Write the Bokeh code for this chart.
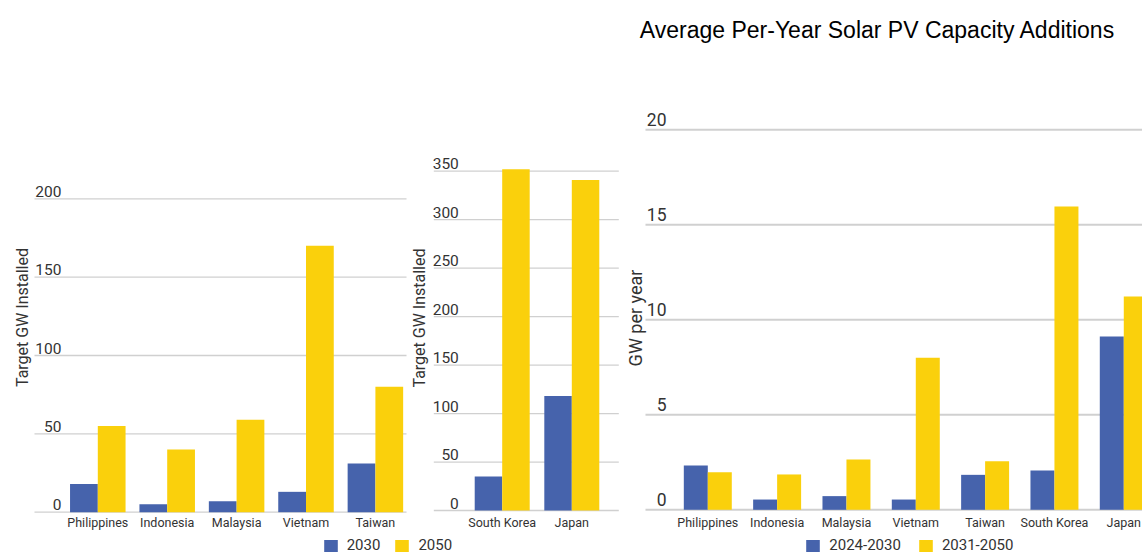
import numpy as np
from bokeh.plotting import figure
from bokeh.models import Range1d, Legend, LegendItem
from bokeh.core.properties import value
from bokeh.embed import file_html
from bokeh.resources import INLINE

# ---------------- data ----------------
sea_countries = ["Philippines", "Indonesia", "Malaysia", "Vietnam", "Taiwan"]
sea_2030 = [18, 5, 7, 13, 31]
sea_2050 = [55, 40, 59, 170, 80]
sea_ticks = [0, 50, 100, 150, 200]

ne_countries = ["South Korea", "Japan"]
ne_2030 = [35, 118]
ne_2050 = [352, 341]
ne_ticks = [0, 50, 100, 150, 200, 250, 300, 350]

add_countries = ["Philippines", "Indonesia", "Malaysia", "Vietnam", "Taiwan", "South Korea", "Japan"]
add_2024_2030 = [2.33, 0.54, 0.72, 0.54, 1.84, 2.07, 9.12]
add_2031_2050 = [1.98, 1.86, 2.65, 8.0, 2.56, 15.96, 11.23]
add_ticks = [0, 5, 10, 15, 20]

target_series = ["2030", "2050"]
add_series = ["2024-2030", "2031-2050"]
title_text = "Average Per-Year Solar PV Capacity Additions"
target_ytitle = "Target GW Installed"
add_ytitle = "GW per year"

# ---------------- style ----------------
BLUE = "#4663AC"
YELLOW = "#FAD00C"
GRID = "#D0D0D0"
TXT = "#333333"
FONT = value("Roboto")
W, H = 1142, 554

p = figure(width=W, height=H, x_range=Range1d(0, W), y_range=Range1d(H, 0),
           x_axis_type=None, y_axis_type=None, toolbar_location=None,
           output_backend="svg", min_border=0, outline_line_color=None,
           background_fill_color="white", border_fill_color="white")


def panel(name, cats, s1, s2, ticks, c0, step, y0, ppu, bw,
          gx0, gx1, grid_w, tick_right, tick_fs, tick_dy, cat_y,
          ytitle, yt_x, yt_y, yt_fs):
    xr, yr = name + "x", name + "y"
    p.extra_x_ranges[xr] = Range1d(-c0 / step, (W - c0) / step)
    p.extra_y_ranges[yr] = Range1d(-(H - y0) / ppu, y0 / ppu)
    n = len(ticks)
    p.segment(x0=[gx0] * n, x1=[gx1] * n, y0=ticks, y1=ticks, y_range_name=yr,
              line_color=GRID, line_width=grid_w)
    idx = np.arange(len(cats))
    r1 = p.vbar(x=idx - bw / 2, top=s1, bottom=0, width=bw, x_range_name=xr, y_range_name=yr,
                fill_color=BLUE, line_color=None)
    r2 = p.vbar(x=idx + bw / 2, top=s2, bottom=0, width=bw, x_range_name=xr, y_range_name=yr,
                fill_color=YELLOW, line_color=None)
    p.text(x=[tick_right] * n, y=ticks, text=[str(t) for t in ticks], y_range_name=yr,
           y_offset=-tick_dy, text_align="right", text_baseline="middle",
           text_font=FONT, text_font_size=value(tick_fs), text_color=TXT)
    p.text(x=idx, y=[cat_y] * len(cats), text=cats, x_range_name=xr,
           text_align="center", text_baseline="middle",
           text_font=FONT, text_font_size=value("12.5px"), text_color=TXT)
    p.text(x=[yt_x], y=[yt_y], text=[ytitle], angle=np.pi / 2,
           text_align="center", text_baseline="middle",
           text_font=FONT, text_font_size=value(yt_fs), text_color=TXT)
    return r1, r2


a1, a2 = panel("sea", sea_countries, sea_2030, sea_2050, sea_ticks,
               97.3, 69.4, 511.7, 313.4 / 200, 0.40,
               34, 406, 1.3, 61, "15.5px", 7.5, 521.7,
               target_ytitle, 21.5, 317, "16px")
b1, b2 = panel("ne", ne_countries, ne_2030, ne_2050, ne_ticks,
               501.7, 69.6, 510.0, 339.3 / 350, 0.395,
               433.3, 618.3, 1.3, 458.3, "15.5px", 7.4, 522.3,
               target_ytitle, 419, 317.5, "16px")
c1, c2 = panel("add", add_countries, add_2024_2030, add_2031_2050, add_ticks,
               707.3, 69.33, 509.3, 19.0, 0.346,
               645, W, 2, 666, "17.5px", 10.5, 521.7,
               add_ytitle, 635, 317.5, "18px")

p.text(x=[639.3], y=[29], text=[title_text], text_align="left", text_baseline="middle",
       text_font=value("Liberation Sans"), text_font_size=value("23px"), text_color="black")


def legend(labels, rends, x, spacing):
    lg = Legend(items=[LegendItem(label=l, renderers=[r]) for l, r in zip(labels, rends)],
                location=(x, 0), orientation="horizontal", padding=0, margin=0,
                spacing=spacing, glyph_width=17, glyph_height=15, label_height=15,
                label_standoff=8, label_text_font="Roboto", label_text_font_size="15px",
                label_text_color=TXT, border_line_color=None, background_fill_alpha=0)
    p.add_layout(lg)


legend(target_series, [a1, a2], 321.7, 13)
legend(add_series, [c1, c2], 804.3, 16)

open("out.html", "w").write(file_html(p, INLINE))
